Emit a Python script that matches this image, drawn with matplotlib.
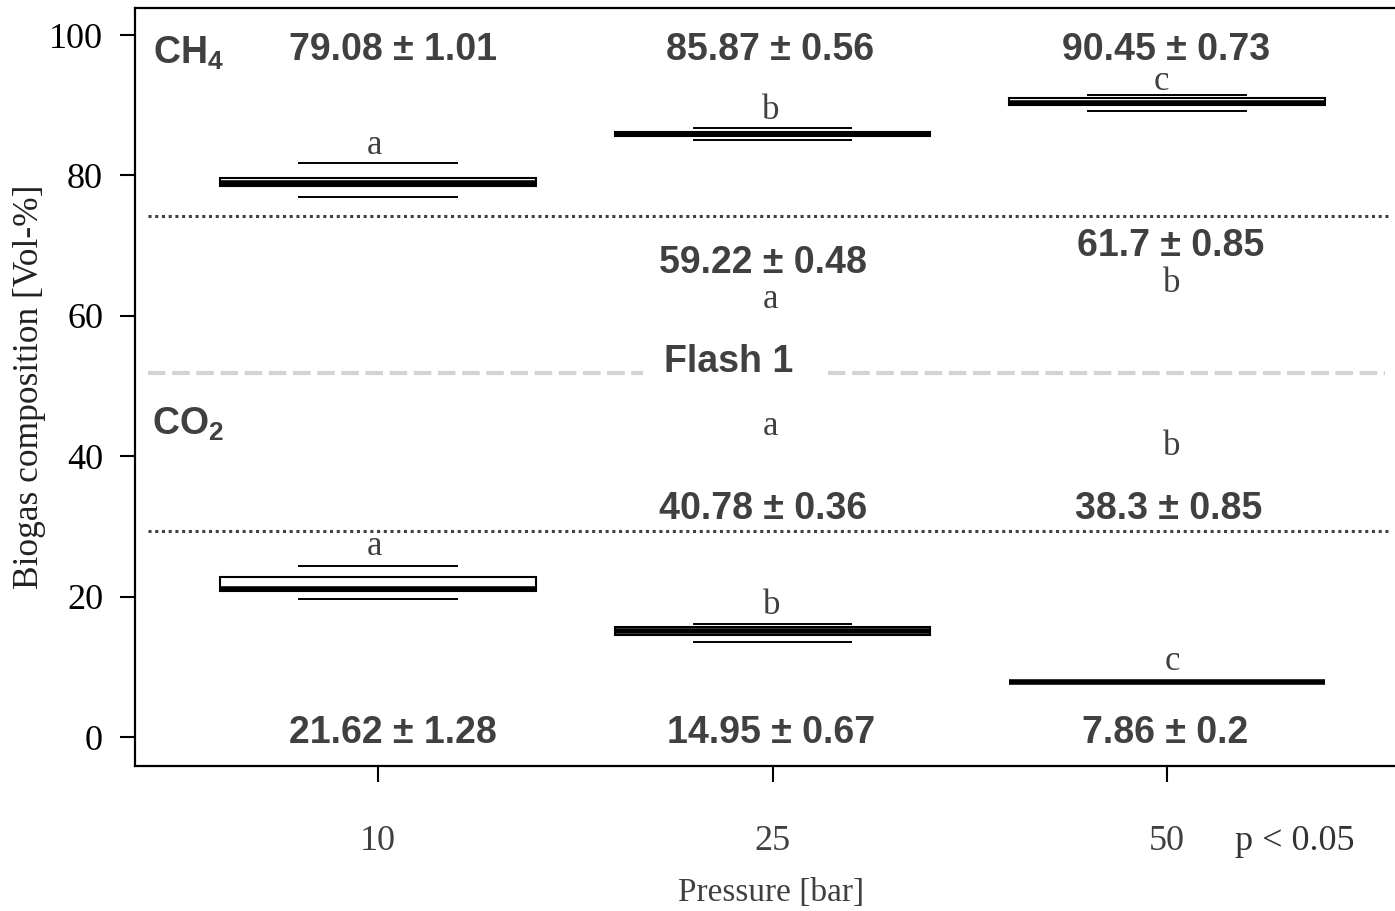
import matplotlib
matplotlib.use('Agg')
import matplotlib.pyplot as plt

plt.rcParams['mathtext.fontset'] = 'custom'
plt.rcParams['mathtext.rm'] = 'Liberation Sans:bold'
plt.rcParams['mathtext.bf'] = 'Liberation Sans:bold'

# group labels (pressure)
pressures = ['10', '25', '50']
pos = [1, 2, 3]

# CH4 box stats
ch4_med = [78.95, 85.9, 90.3]
ch4_q1 = [78.5, 85.55, 90.05]
ch4_q3 = [79.6, 86.25, 91.0]
ch4_lo = [76.9, 85.05, 89.2]
ch4_hi = [81.8, 86.75, 91.5]

# CO2 box stats
co2_med = [21.1, 15.05, 7.83]
co2_q1 = [20.85, 14.6, 7.83]
co2_q3 = [22.8, 15.65, 7.83]
co2_lo = [19.6, 13.6, 7.83]
co2_hi = [24.4, 16.05, 7.83]

ch4_text = ['79.08 ± 1.01', '85.87 ± 0.56', '90.45 ± 0.73']
co2_text = ['21.62 ± 1.28', '14.95 ± 0.67', '7.86 ± 0.2']
ch4_letters = ['a', 'b', 'c']
co2_letters = ['a', 'b', 'c']

# flash 1 values (25 and 50 bar only)
flash_ch4_text = ['59.22 ± 0.48', '61.7 ± 0.85']
flash_co2_text = ['40.78 ± 0.36', '38.3 ± 0.85']
flash_ch4_letters = ['a', 'b']
flash_co2_letters = ['a', 'b']

ch4_ref = 74.2
co2_ref = 29.3
flash_line = 51.85

gray = '#404040'
serif = 'Liberation Serif'
sans = 'Liberation Sans'


def stats(med, q1, q3, lo, hi):
    return [dict(med=m, q1=a, q3=b, whislo=l, whishi=h, fliers=[])
            for m, a, b, l, h in zip(med, q1, q3, lo, hi)]


fig = plt.figure(figsize=(13.95, 9.11), dpi=100)
ax = fig.add_axes([135 / 1395, 1 - 766 / 911, 1268.7 / 1395, 758 / 911])

box_kw = dict(positions=pos, widths=0.8, capwidths=0.4, patch_artist=True,
              showfliers=False,
              boxprops=dict(facecolor='white', edgecolor='black', linewidth=1.5),
              medianprops=dict(color='black', linewidth=4, solid_capstyle='butt'),
              whiskerprops=dict(linewidth=0),
              capprops=dict(color='black', linewidth=1.4))
ax.bxp(stats(ch4_med, ch4_q1, ch4_q3, ch4_lo, ch4_hi), **box_kw)
ax.bxp(stats(co2_med, co2_q1, co2_q3, co2_lo, co2_hi), **box_kw)

# reference lines
ax.hlines([ch4_ref, co2_ref], 0.417, 3.565, colors=gray, linewidth=2.2,
          linestyles=(0, (1, 1.2)))
ax.hlines(flash_line, 0.417, 1.672, colors='#d3d3d3', linewidth=3,
          linestyles=(0, (4.2, 1.6)))
ax.hlines(flash_line, 2.141, 3.553, colors='#d3d3d3', linewidth=3,
          linestyles=(0, (4.2, 1.6)))

bold = dict(fontsize=27, fontweight='bold', color=gray, family=sans,
            ha='center', va='center')
let = dict(fontsize=25, color=gray, family=serif, ha='center', va='center')

for x, t in zip([1.038, 1.994, 2.997], ch4_text):
    ax.text(x, 97.9, t, **bold)
for x, t in zip([1.038, 1.996, 2.995], co2_text):
    ax.text(x, 0.57, t, **bold)
for x, y, t in zip([0.992, 1.995, 2.987], [84.3, 89.3, 93.4], ch4_letters):
    ax.text(x, y, t, **let)
for x, y, t in zip([0.992, 1.997, 3.013], [27.1, 18.7, 10.8], co2_letters):
    ax.text(x, y, t, **let)

for x, y, t in zip([1.976, 3.01], [67.5, 69.9], flash_ch4_text):
    ax.text(x, y, t, **bold)
for x, y, t in zip([1.976, 3.005], [32.5, 32.5], flash_co2_text):
    ax.text(x, y, t, **bold)
for x, y, t in zip([1.995, 3.013], [62.3, 64.6], flash_ch4_letters):
    ax.text(x, y, t, **let)
for x, y, t in zip([1.995, 3.013], [44.2, 41.4], flash_co2_letters):
    ax.text(x, y, t, **let)

ax.text(1.89, 53.4, 'Flash 1', **bold)
ax.text(0.43, 97.4, 'CH$_4$', fontsize=27, fontweight='bold', color=gray,
        family=sans, ha='left', va='center')
ax.text(0.427, 44.6, 'CO$_2$', fontsize=27, fontweight='bold', color=gray,
        family=sans, ha='left', va='center')

ax.set_xlim(0.384, 3.6)
ax.set_ylim(-4.13, 103.85)
ax.set_xticks(pos)
ax.set_xticklabels(pressures)
ax.set_yticks([0, 20, 40, 60, 80, 100])

for s in ['left', 'bottom', 'top', 'right']:
    ax.spines[s].set_linewidth(1.6)

ax.tick_params(axis='y', direction='out', length=11, width=1.5, pad=12,
               labelsize=26, labelcolor='black')
ax.tick_params(axis='x', direction='out', length=11.5, width=1.5, pad=31,
               labelsize=26, labelcolor=gray)
for lb in ax.get_xticklabels() + ax.get_yticklabels():
    lb.set_family(serif)

ax.set_xlabel('Pressure [bar]', fontsize=24, family=serif, color=gray, va='center')
ax.set_ylabel('Biogas composition [Vol-%]', fontsize=25.5, family=serif,
              color='#222222', va='center')
ax.xaxis.set_label_coords(0.501, -0.1675)
ax.yaxis.set_label_coords(-0.0828, 0.5)

fig.text(1295 / 1395, 1 - 842 / 911, 'p < 0.05', fontsize=26, family=serif,
         color='#333333', ha='center', va='center')

fig.savefig('out.png', dpi=100)
